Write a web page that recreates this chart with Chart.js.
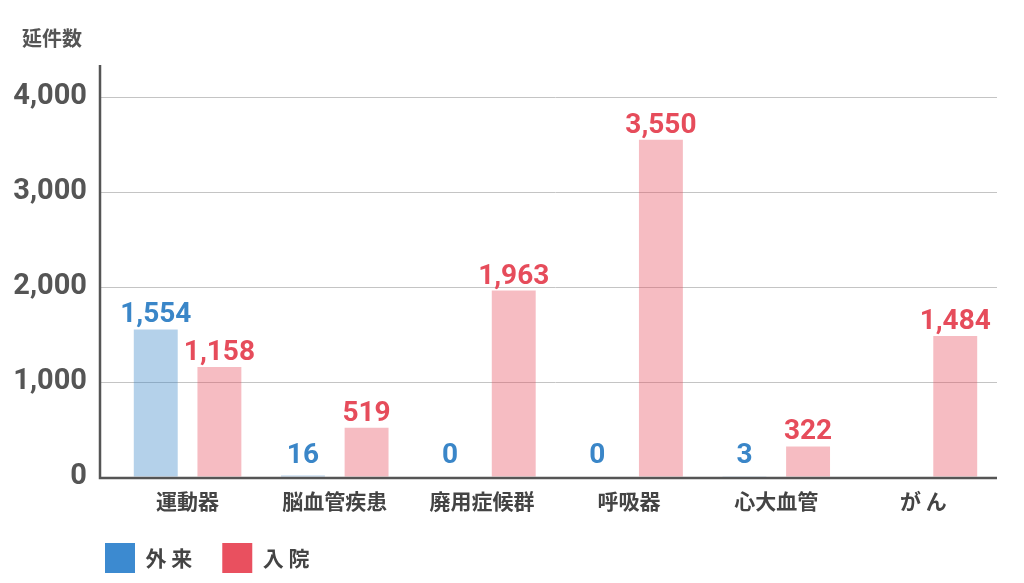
<!DOCTYPE html>
<html>
<head>
<meta charset="utf-8">
<script src="https://cdn.jsdelivr.net/npm/chart.js@4"></script>
<style>
  html, body { margin: 0; padding: 0; background: #fff; }
  #wrap { width: 1024px; height: 583px; }
</style>
</head>
<body>
<div id="wrap"><canvas id="grafico"></canvas></div>
<script>
const categorias = ['運動器', '脳血管疾患', '廃用症候群', '呼吸器', '心大血管', 'が ん'];
const gaiRai = [1554, 16, 0, 0, 3, null];
const nyuIn = [1158, 519, 1963, 3550, 322, 1484];
const nombresSeries = ['外 来', '入 院'];
const yTicks = [0, 1000, 2000, 3000, 4000];
const tituloEje = '延件数';

const coloresLegenda = ['#3c8ad0', '#e9505f'];
const coloresBarra = ['rgba(58, 134, 200, 0.38)', 'rgba(232, 80, 95, 0.38)'];
const coloresTexto = ['#3a86c8', '#e64c5b'];

Chart.defaults.font.family = "Roboto, 'Noto Sans CJK JP', sans-serif";
Chart.defaults.color = '#444';

// etiquetas de valor encima de cada barra + ejes
const extrasPlugin = {
  id: 'extras',
  beforeInit: function(chart) {
    const fitOriginal = chart.legend.fit;
    chart.legend.fit = function() {
      fitOriginal.call(this);
      this.height = 70;
    };
  },
  afterLayout: function(chart) {
    chart.legend.left = 75;
    chart.titleBlock.left = 22;
  },
  afterDatasetsDraw: function(chart) {
    const ctx = chart.ctx;
    const area = chart.chartArea;
    const x0 = area.left - 14;

    ctx.save();
    ctx.strokeStyle = '#555';
    ctx.lineWidth = 2.5;
    ctx.beginPath();
    ctx.moveTo(x0, area.top);
    ctx.lineTo(x0, area.bottom + 1);
    ctx.lineTo(area.right, area.bottom + 1);
    ctx.stroke();

    ctx.font = 'bold 28px Roboto, sans-serif';
    ctx.textAlign = 'center';
    ctx.textBaseline = 'bottom';
    chart.data.datasets.forEach(function(ds, i) {
      const meta = chart.getDatasetMeta(i);
      ctx.fillStyle = coloresTexto[i];
      meta.data.forEach(function(barra, j) {
        const v = ds.data[j];
        if (v === null || v === undefined) return;
        ctx.fillText(v.toLocaleString('en-US'), barra.x, Math.min(barra.y, area.bottom - 7));
      });
    });
    ctx.restore();
  }
};

const ctx = document.getElementById('grafico').getContext('2d');

const grafico = new Chart(ctx, {
  type: 'bar',
  data: {
    labels: categorias,
    datasets: [{
      label: nombresSeries[0],
      data: gaiRai,
      backgroundColor: coloresBarra[0],
      borderWidth: 0,
      categoryPercentage: 0.865,
      barPercentage: 0.69
    }, {
      label: nombresSeries[1],
      data: nyuIn,
      backgroundColor: coloresBarra[1],
      borderWidth: 0,
      categoryPercentage: 0.865,
      barPercentage: 0.69
    }]
  },
  options: {
    responsive: true,
    maintainAspectRatio: false,
    animation: false,
    layout: {
      padding: { left: 0, right: 27, top: 0, bottom: 0 }
    },
    scales: {
      x: {
        grid: { display: false, drawTicks: false },
        border: { display: false },
        ticks: {
          padding: 11,
          color: '#444',
          font: { size: 21, weight: 'bold', family: "'Noto Sans CJK JP', sans-serif" }
        },
        afterFit: function(scale) {
          scale.height = 36;
        }
      },
      y: {
        min: 0,
        max: 4337,
        border: { display: false },
        grid: {
          color: '#c4c4c4',
          lineWidth: 1,
          drawTicks: true,
          tickLength: 14
        },
        ticks: {
          stepSize: 1000,
          padding: 13,
          color: '#555',
          font: { size: 29, weight: 'bold', family: 'Roboto, sans-serif' },
          callback: function(value) {
            return value.toLocaleString('en-US');
          }
        },
        afterBuildTicks: function(scale) {
          scale.ticks = yTicks.map(function(v) { return { value: v }; });
        },
        afterFit: function(scale) {
          scale.width = 114;
        }
      }
    },
    plugins: {
      title: {
        display: true,
        text: tituloEje,
        align: 'start',
        color: '#555',
        font: { size: 20, weight: 'bold', family: "'Noto Sans CJK JP', sans-serif" },
        padding: { top: 26, bottom: 15 }
      },
      legend: {
        position: 'bottom',
        align: 'start',
        labels: {
          boxWidth: 30,
          boxHeight: 30,
          padding: 30,
          color: '#444',
          font: { size: 21, weight: 'bold', family: "'Noto Sans CJK JP', sans-serif" },
          generateLabels: function(chart) {
            return chart.data.datasets.map(function(ds, i) {
              return {
                text: ds.label,
                fillStyle: coloresLegenda[i],
                strokeStyle: coloresLegenda[i],
                lineWidth: 0,
                hidden: false,
                datasetIndex: i,
                fontColor: '#444'
              };
            });
          }
        }
      },
      tooltip: { enabled: false }
    }
  },
  plugins: [extrasPlugin]
});
</script>
</body>
</html>
